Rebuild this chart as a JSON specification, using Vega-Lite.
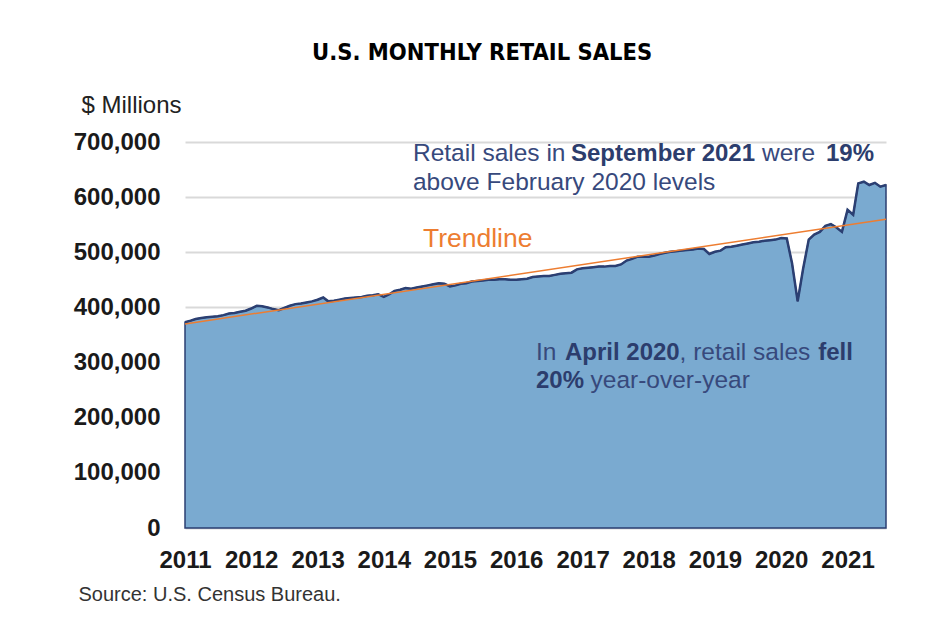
{
  "$schema": "https://vega.github.io/schema/vega-lite/v6.json",
  "width": 701,
  "height": 386,
  "autosize": {"type": "none"},
  "padding": {"left": 185, "top": 142, "right": 61, "bottom": 102},
  "background": "white",
  "title": {
    "text": "U.S. MONTHLY RETAIL SALES",
    "font": "Liberation Sans Narrow, DejaVu Sans Condensed, Roboto, sans-serif",
    "fontSize": 23.5,
    "fontWeight": "bold",
    "color": "#000000",
    "anchor": "middle",
    "frame": "bounds",
    "offset": 29
  },
  "config": {"view": {"stroke": null}},
  "datasets": {
    "sales": [
      {"date": "2011-01-01", "value": 373000}, {"date": "2011-02-01", "value": 376000}, {"date": "2011-03-01", "value": 379000}, {"date": "2011-04-01", "value": 381000}, {"date": "2011-05-01", "value": 382000}, {"date": "2011-06-01", "value": 383000}, {"date": "2011-07-01", "value": 384000}, {"date": "2011-08-01", "value": 386000}, {"date": "2011-09-01", "value": 389000}, {"date": "2011-10-01", "value": 390000}, {"date": "2011-11-01", "value": 392000}, {"date": "2011-12-01", "value": 394000},
      {"date": "2012-01-01", "value": 398000}, {"date": "2012-02-01", "value": 403000}, {"date": "2012-03-01", "value": 402000}, {"date": "2012-04-01", "value": 400000}, {"date": "2012-05-01", "value": 397000}, {"date": "2012-06-01", "value": 395000}, {"date": "2012-07-01", "value": 399000}, {"date": "2012-08-01", "value": 403000}, {"date": "2012-09-01", "value": 406000}, {"date": "2012-10-01", "value": 407000}, {"date": "2012-11-01", "value": 409000}, {"date": "2012-12-01", "value": 411000},
      {"date": "2013-01-01", "value": 414000}, {"date": "2013-02-01", "value": 418000}, {"date": "2013-03-01", "value": 411000}, {"date": "2013-04-01", "value": 412000}, {"date": "2013-05-01", "value": 414000}, {"date": "2013-06-01", "value": 416000}, {"date": "2013-07-01", "value": 417000}, {"date": "2013-08-01", "value": 418000}, {"date": "2013-09-01", "value": 419000}, {"date": "2013-10-01", "value": 421000}, {"date": "2013-11-01", "value": 422000}, {"date": "2013-12-01", "value": 424000},
      {"date": "2014-01-01", "value": 419000}, {"date": "2014-02-01", "value": 424000}, {"date": "2014-03-01", "value": 430000}, {"date": "2014-04-01", "value": 432000}, {"date": "2014-05-01", "value": 435000}, {"date": "2014-06-01", "value": 434000}, {"date": "2014-07-01", "value": 436000}, {"date": "2014-08-01", "value": 438000}, {"date": "2014-09-01", "value": 440000}, {"date": "2014-10-01", "value": 442000}, {"date": "2014-11-01", "value": 444000}, {"date": "2014-12-01", "value": 443000},
      {"date": "2015-01-01", "value": 438000}, {"date": "2015-02-01", "value": 440000}, {"date": "2015-03-01", "value": 443000}, {"date": "2015-04-01", "value": 444000}, {"date": "2015-05-01", "value": 447000}, {"date": "2015-06-01", "value": 448000}, {"date": "2015-07-01", "value": 449000}, {"date": "2015-08-01", "value": 450000}, {"date": "2015-09-01", "value": 450000}, {"date": "2015-10-01", "value": 451000}, {"date": "2015-11-01", "value": 451000}, {"date": "2015-12-01", "value": 450000},
      {"date": "2016-01-01", "value": 450000}, {"date": "2016-02-01", "value": 451000}, {"date": "2016-03-01", "value": 452000}, {"date": "2016-04-01", "value": 455000}, {"date": "2016-05-01", "value": 456000}, {"date": "2016-06-01", "value": 457000}, {"date": "2016-07-01", "value": 457000}, {"date": "2016-08-01", "value": 459000}, {"date": "2016-09-01", "value": 461000}, {"date": "2016-10-01", "value": 462000}, {"date": "2016-11-01", "value": 463000}, {"date": "2016-12-01", "value": 469000},
      {"date": "2017-01-01", "value": 471000}, {"date": "2017-02-01", "value": 472000}, {"date": "2017-03-01", "value": 473000}, {"date": "2017-04-01", "value": 474000}, {"date": "2017-05-01", "value": 474000}, {"date": "2017-06-01", "value": 475000}, {"date": "2017-07-01", "value": 475000}, {"date": "2017-08-01", "value": 478000}, {"date": "2017-09-01", "value": 485000}, {"date": "2017-10-01", "value": 488000}, {"date": "2017-11-01", "value": 492000}, {"date": "2017-12-01", "value": 492000},
      {"date": "2018-01-01", "value": 492000}, {"date": "2018-02-01", "value": 494000}, {"date": "2018-03-01", "value": 497000}, {"date": "2018-04-01", "value": 499000}, {"date": "2018-05-01", "value": 501000}, {"date": "2018-06-01", "value": 502000}, {"date": "2018-07-01", "value": 503000}, {"date": "2018-08-01", "value": 504000}, {"date": "2018-09-01", "value": 505000}, {"date": "2018-10-01", "value": 507000}, {"date": "2018-11-01", "value": 506000}, {"date": "2018-12-01", "value": 497000},
      {"date": "2019-01-01", "value": 501000}, {"date": "2019-02-01", "value": 503000}, {"date": "2019-03-01", "value": 509000}, {"date": "2019-04-01", "value": 510000}, {"date": "2019-05-01", "value": 512000}, {"date": "2019-06-01", "value": 514000}, {"date": "2019-07-01", "value": 516000}, {"date": "2019-08-01", "value": 518000}, {"date": "2019-09-01", "value": 519000}, {"date": "2019-10-01", "value": 521000}, {"date": "2019-11-01", "value": 522000}, {"date": "2019-12-01", "value": 523000},
      {"date": "2020-01-01", "value": 526000}, {"date": "2020-02-01", "value": 525000}, {"date": "2020-03-01", "value": 480000}, {"date": "2020-04-01", "value": 411000}, {"date": "2020-05-01", "value": 470000}, {"date": "2020-06-01", "value": 523000}, {"date": "2020-07-01", "value": 532000}, {"date": "2020-08-01", "value": 537000}, {"date": "2020-09-01", "value": 548000}, {"date": "2020-10-01", "value": 551000}, {"date": "2020-11-01", "value": 545000}, {"date": "2020-12-01", "value": 537000},
      {"date": "2021-01-01", "value": 577000}, {"date": "2021-02-01", "value": 568000}, {"date": "2021-03-01", "value": 625000}, {"date": "2021-04-01", "value": 628000}, {"date": "2021-05-01", "value": 622000}, {"date": "2021-06-01", "value": 626000}, {"date": "2021-07-01", "value": 619000}, {"date": "2021-08-01", "value": 622000}
    ],
    "trend": [
      {"date": "2011-01-01", "value": 370000},
      {"date": "2021-08-01", "value": 560000}
    ],
    "notesRegular": [
      {"date": "2014-06-11", "value": 665600, "text": "Retail sales in"},
      {"date": "2019-09-17", "value": 665600, "text": "were"},
      {"date": "2014-06-11", "value": 613000, "text": "above February 2020 levels"},
      {"date": "2016-04-19", "value": 304700, "text": "In"},
      {"date": "2018-06-20", "value": 304700, "text": ", retail sales"},
      {"date": "2017-02-14", "value": 253400, "text": "year-over-year"}
    ],
    "notesBold": [
      {"date": "2016-10-29", "value": 665600, "text": "September 2021"},
      {"date": "2020-09-04", "value": 665600, "text": "19%"},
      {"date": "2016-09-26", "value": 304700, "text": "April 2020"},
      {"date": "2020-07-23", "value": 304700, "text": "fell"},
      {"date": "2016-04-19", "value": 253400, "text": "20%"}
    ],
    "trendLabel": [
      {"date": "2014-08-05", "value": 509600, "text": "Trendline"}
    ]
  },
  "encoding": {
    "x": {
      "field": "date",
      "type": "temporal",
      "scale": {
        "type": "utc",
        "domain": [
          {"year": 2011, "month": 1, "date": 1, "utc": true},
          {"year": 2021, "month": 8, "date": 1, "utc": true}
        ]
      },
      "axis": {
        "values": [
          {"year": 2011, "month": 1, "date": 1, "utc": true},
          {"year": 2012, "month": 1, "date": 1, "utc": true},
          {"year": 2013, "month": 1, "date": 1, "utc": true},
          {"year": 2014, "month": 1, "date": 1, "utc": true},
          {"year": 2015, "month": 1, "date": 1, "utc": true},
          {"year": 2016, "month": 1, "date": 1, "utc": true},
          {"year": 2017, "month": 1, "date": 1, "utc": true},
          {"year": 2018, "month": 1, "date": 1, "utc": true},
          {"year": 2019, "month": 1, "date": 1, "utc": true},
          {"year": 2020, "month": 1, "date": 1, "utc": true},
          {"year": 2021, "month": 1, "date": 1, "utc": true}
        ],
        "format": "%Y",
        "labelFont": "Liberation Sans",
        "labelFontSize": 24,
        "labelFontWeight": "bold",
        "labelColor": "#1a1a1a",
        "labelPadding": 20,
        "labelFlush": false,
        "labelOverlap": false,
        "ticks": false,
        "domain": false,
        "grid": false,
        "title": "Source: U.S. Census Bureau.",
        "titleFont": "Liberation Sans",
        "titleFontSize": 20,
        "titleFontWeight": "normal",
        "titleColor": "#333333",
        "titleX": -107,
        "titleY": 72,
        "titleAlign": "left",
        "titleAnchor": null,
        "titleBaseline": "alphabetic"
      }
    },
    "y": {
      "field": "value",
      "type": "quantitative",
      "scale": {"domain": [0, 700000], "nice": false},
      "axis": {
        "values": [0, 100000, 200000, 300000, 400000, 500000, 600000, 700000],
        "format": ",d",
        "labelFont": "Liberation Sans",
        "labelFontSize": 24,
        "labelFontWeight": "bold",
        "labelColor": "#1a1a1a",
        "labelPadding": 25,
        "ticks": false,
        "domain": false,
        "grid": true,
        "gridColor": "#d9d9d9",
        "gridWidth": 2,
        "title": "$ Millions",
        "titleFont": "Liberation Sans",
        "titleFontSize": 24,
        "titleFontWeight": "normal",
        "titleColor": "#222222",
        "titleAngle": 0,
        "titleX": -104,
        "titleY": -30,
        "titleAlign": "left",
        "titleBaseline": "alphabetic"
      }
    }
  },
  "layer": [
    {
      "data": {"name": "sales"},
      "mark": {"type": "area", "fill": "#7aaad0", "fillOpacity": 1, "opacity": 1, "stroke": "#2b3f72", "strokeWidth": 1.5}
    },
    {
      "data": {"name": "sales"},
      "mark": {"type": "line", "color": "#2b3f72", "strokeWidth": 2.5}
    },
    {
      "data": {"name": "trend"},
      "mark": {"type": "line", "color": "#ed7d31", "strokeWidth": 1.5}
    },
    {
      "data": {"name": "notesRegular"},
      "mark": {"type": "text", "align": "left", "baseline": "alphabetic", "font": "Liberation Sans", "fontSize": 24.5, "color": "#37497c"},
      "encoding": {"text": {"field": "text"}}
    },
    {
      "data": {"name": "notesBold"},
      "mark": {"type": "text", "align": "left", "baseline": "alphabetic", "font": "Liberation Sans", "fontSize": 24, "fontWeight": "bold", "color": "#2c3d6d"},
      "encoding": {"text": {"field": "text"}}
    },
    {
      "data": {"name": "trendLabel"},
      "mark": {"type": "text", "align": "left", "baseline": "alphabetic", "font": "Liberation Sans", "fontSize": 26.5, "color": "#ed7d31"},
      "encoding": {"text": {"field": "text"}}
    }
  ]
}
